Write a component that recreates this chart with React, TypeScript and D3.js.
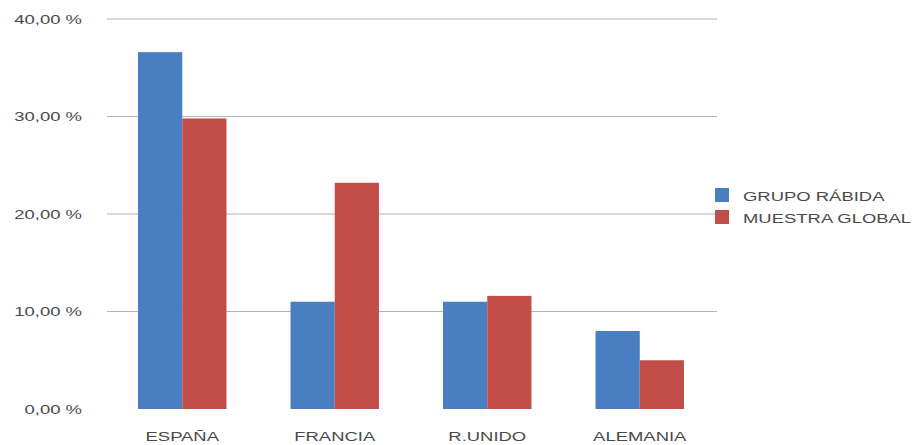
import * as d3 from 'd3';

const categories = ['ESPAÑA', 'FRANCIA', 'R.UNIDO', 'ALEMANIA'];
const seriesNames = ['GRUPO RÁBIDA', 'MUESTRA GLOBAL'];
const grupoRabida = [36.6, 11.0, 11.0, 8.0];
const muestraGlobal = [29.8, 23.2, 11.6, 5.0];
const yTicks = [0, 10, 20, 30, 40];
const yTickLabels = ['0,00 %', '10,00 %', '20,00 %', '30,00 %', '40,00 %'];

const colors = ['#4a7ec2', '#c24e4a'];
const width = 920;
const height = 445;
const stretch = 1.42;

const App = () => {
  const x = d3.scaleBand<string>()
    .domain(categories)
    .range([106, 716])
    .paddingInner(0.42)
    .paddingOuter(0.21);

  const xInner = d3.scaleBand<string>()
    .domain(seriesNames)
    .range([0, x.bandwidth()]);

  const y = d3.scaleLinear().domain([0, 40]).range([409, 19]);

  const series = [grupoRabida, muestraGlobal];
  const textStyle = { fontFamily: 'Liberation Sans, Arial, sans-serif', fontSize: 13, fill: '#4a4a4a' };

  return (
    <svg width={width} height={height} style={{ position: 'absolute', left: 0, top: 0 }}>
      <rect width={width} height={height} fill="#fff" />
      {/* gridlines, no line at 0 */}
      {yTicks.filter(t => t > 0).map(t => (
        <line key={t} x1={107} x2={717} y1={y(t)} y2={y(t)} stroke="#b3b3b3" strokeWidth={1.2} />
      ))}
      {yTicks.map((t, i) => (
        <text key={'yl' + t} transform={`translate(82,${y(t) + 4.5}) scale(${stretch},1)`}
          textAnchor="end" style={textStyle}>{yTickLabels[i]}</text>
      ))}
      {categories.map((c, ci) => (
        <g key={c} transform={`translate(${x(c)},0)`}>
          {series.map((s, si) => (
            <rect key={si}
              x={xInner(seriesNames[si])}
              y={y(s[ci])}
              width={xInner.bandwidth()}
              height={y(0) - y(s[ci])}
              fill={colors[si]} />
          ))}
        </g>
      ))}
      {categories.map(c => (
        <text key={'xl' + c} transform={`translate(${(x(c) ?? 0) + x.bandwidth() / 2},441) scale(${stretch},1)`}
          textAnchor="middle" style={textStyle}>{c}</text>
      ))}
      {seriesNames.map((n, i) => (
        <g key={n} transform={`translate(715,${188 + i * 22})`}>
          <rect width={14} height={14} fill={colors[i]} />
          <text transform={`translate(28,12.5) scale(${stretch},1)`} style={textStyle}>{n}</text>
        </g>
      ))}
    </svg>
  );
};

export default App;
